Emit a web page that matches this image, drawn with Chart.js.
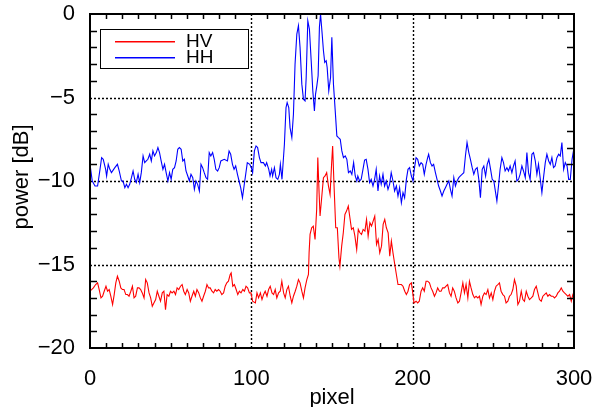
<!DOCTYPE html>
<html>
<head>
<meta charset="utf-8">
<script src="https://cdn.jsdelivr.net/npm/chart.js@4.4.1/dist/chart.umd.min.js"></script>
<style>
  html, body { margin: 0; padding: 0; background: #fff; }
  #wrap { width: 595px; height: 407px; }
</style>
</head>
<body>
<div id="wrap"><canvas id="chart" width="595" height="407"></canvas></div>
<script>
'use strict';

// Axis ticks
const xTicks = [0, 100, 200, 300];
const yTicks = [-20, -15, -10, -5, 0];

// Series names and colours
const seriesNames = ['HV', 'HH'];
const seriesColors = ['rgb(255, 0, 0)', 'rgb(0, 0, 255)'];

// HV (red): [pixel, power dB]
const hvSamples = [
  [0,-16.6],[2.1,-16.4],[3.5,-16.2],[4.7,-16.1],[5.7,-16.5],[6.8,-17.0],[7.8,-16.9],[8.8,-16.6],[9.9,-16.3],[10.9,-16.6],
  [11.9,-16.5],[12.9,-16.9],[14,-17.4],[15,-16.8],[16,-16.1],[17,-15.7],[18.1,-16.0],[19.1,-16.4],[20.1,-16.5],[21.1,-16.5],
  [22.2,-16.8],[23.2,-16.8],[24.2,-16.9],[25.3,-16.6],[26.3,-16.3],[27.3,-17.0],[28.3,-16.9],[29.4,-16.4],[30.4,-16.4],[31.4,-16.5],
  [32.4,-16.7],[33.5,-17.0],[34.5,-15.9],[35.5,-16.1],[36.6,-16.7],[37.6,-17.0],[38.6,-17.5],[39.6,-17.3],[40.7,-17.1],[41.7,-16.6],
  [42.7,-16.9],[43.7,-17.2],[44.8,-16.7],[45.8,-16.6],[46.8,-17.7],[47.8,-16.8],[48.9,-16.9],[49.9,-16.6],[50.9,-16.7],[52,-16.6],
  [53,-16.8],[54,-16.4],[55,-16.5],[56.1,-16.3],[57.1,-16.2],[58.1,-16.6],[59.1,-16.8],[60.2,-16.5],[61.2,-16.7],[62.2,-17.2],
  [63.2,-16.9],[64.3,-16.6],[65.3,-16.9],[66.3,-16.5],[67.4,-16.7],[68.4,-17.0],[69.4,-17.2],[70.4,-16.9],[71.5,-16.6],[72.5,-16.2],
  [73.5,-16.4],[74.5,-16.4],[75.6,-16.6],[76.6,-16.7],[77.6,-16.5],[78.6,-16.6],[79.7,-16.5],[80.7,-16.6],[81.7,-16.8],[82.8,-16.7],
  [83.8,-16.3],[84.8,-16.1],[85.8,-16.0],[86.9,-15.6],[87.5,-15.5],[88.5,-16.3],[89.5,-16.2],[90.6,-16.5],[91.6,-16.8],[92.6,-16.6],
  [93.6,-16.7],[94.7,-16.5],[95.7,-16.6],[96.7,-16.3],[97.7,-16.4],[98.8,-16.7],[99.8,-16.7],[100.8,-17.2],[102.5,-17.3],[103.5,-16.7],
  [104.5,-17.0],[105.6,-16.7],[106.6,-17.1],[107.6,-16.8],[108.6,-16.6],[109.7,-16.9],[110.7,-16.5],[111.7,-16.3],[112.8,-16.7],[113.8,-16.8],
  [114.8,-16.5],[115.8,-17.0],[116.9,-16.7],[117.9,-16.6],[118.9,-16.0],[120,-16.7],[121,-17.0],[122,-16.5],[123,-16.3],[124.1,-16.9],
  [125.1,-17.3],[126.1,-16.9],[127.2,-16.6],[128.2,-16.3],[129.2,-15.9],[130.2,-16.1],[131.3,-16.6],[132.3,-17.0],[133.3,-16.4],[134.4,-15.9],
  [135.4,-15.6],[135.8,-14.3],[136.4,-13.2],[137.4,-12.8],[138.4,-12.7],[139.5,-13.5],[140.5,-11.7],[141.2,-8.6],[142,-10.7],[142.6,-12.1],
  [143.6,-11.0],[144.7,-9.8],[145.7,-9.7],[146.7,-9.5],[147.8,-10.3],[148.8,-10.8],[149.8,-8.9],[150.4,-7.9],[151.2,-10.1],[152.3,-12.8],
  [153.3,-12.8],[154.3,-14.6],[154.9,-15.1],[156,-13.9],[157,-13.1],[158,-12.0],[159,-11.8],[160.1,-11.5],[161.1,-12.2],[162.1,-12.9],
  [163.2,-12.8],[164.2,-13.3],[165.3,-14.1],[166.3,-12.9],[167.3,-13.1],[168.3,-13.2],[169.3,-12.9],[170.4,-13.0],[171.4,-12.3],[172.4,-13.3],
  [173.5,-12.5],[174.5,-12.7],[175.5,-12.4],[176.5,-12.1],[177.6,-13.8],[178.6,-13.5],[179.6,-14.3],[180.7,-13.9],[181.7,-12.6],[182.7,-12.3],
  [183.7,-12.8],[184.8,-13.1],[185.8,-14.5],[186.8,-13.6],[187.8,-14.3],[188.9,-15.0],[189.9,-15.6],[190.9,-16.2],[192,-16.2],[193,-16.2],
  [194,-16.3],[195.1,-16.6],[196.1,-16.8],[197.1,-16.6],[198.1,-16.2],[199.2,-16.1],[200.2,-16.8],[200.8,-17.3],[202.1,-17.2],[203.1,-17.3],
  [204.1,-17.2],[205.2,-16.6],[206.2,-16.4],[207.2,-16.6],[208.3,-16.0],[209.3,-16.0],[210.4,-16.1],[211.4,-16.4],[212.4,-16.6],[213.5,-16.9],
  [214.5,-16.7],[215.5,-16.4],[216.6,-16.6],[217.6,-16.6],[218.6,-16.4],[219.7,-16.4],[220.7,-16.3],[221.7,-16.2],[222.8,-16.7],[223.8,-16.9],
  [224.8,-16.4],[225.8,-16.6],[226.9,-17.0],[228,-17.3],[229,-17.2],[230,-16.7],[231.1,-16.1],[232.1,-16.7],[233.1,-16.2],[234.2,-17.0],
  [235.2,-16.0],[236.2,-16.4],[237.3,-16.8],[238.3,-17.0],[239.3,-16.9],[240.4,-17.0],[241.4,-16.9],[242.4,-17.4],[243.5,-16.9],[244.5,-16.7],
  [245.5,-16.8],[246.6,-16.5],[247.6,-17.0],[248.7,-16.7],[249.7,-17.1],[250.7,-16.6],[251.7,-16.3],[252.8,-16.2],[253.8,-16.1],[254.8,-16.6],
  [255.9,-16.8],[256.9,-16.9],[257.9,-17.3],[259,-17.2],[260,-16.9],[261,-16.8],[262.1,-16.5],[263.1,-15.9],[264.2,-16.3],[265.2,-17.4],
  [266.2,-17.2],[267.3,-16.6],[268.3,-17.1],[269.3,-17.2],[270.4,-16.6],[271.4,-16.9],[272.4,-17.1],[273.5,-17.0],[274.5,-16.9],[275.5,-16.5],
  [276.6,-16.3],[277.6,-16.7],[278.6,-17.1],[279.7,-17.2],[280.7,-16.9],[281.7,-16.8],[282.8,-16.7],[283.8,-16.9],[284.8,-16.8],[285.9,-16.9],
  [286.9,-16.9],[287.9,-17.0],[289,-16.9],[290,-16.7],[291,-16.6],[292.1,-16.4],[293.1,-16.6],[294.1,-16.7],[295.2,-16.8],[296.2,-16.9],
  [297.3,-16.8],[298.3,-17.2],[299.3,-16.8],[300,-16.9]
];

// HH (blue): [pixel, power dB]
const hhSamples = [
  [0,-9.0],[1.4,-10.0],[3.1,-10.3],[4.7,-10.3],[6.2,-9.3],[7.2,-8.6],[8.2,-8.7],[9.7,-9.3],[10.3,-9.7],[11.3,-9.0],
  [12.3,-9.3],[13.3,-9.5],[15.4,-9.2],[17,-9.0],[18.1,-9.4],[19.5,-10.0],[20.5,-10.0],[21.6,-10.4],[22.6,-10.2],[23.6,-10.4],
  [24.6,-10.2],[25.7,-9.8],[26.7,-9.4],[27.7,-9.9],[28.7,-10.1],[29.8,-9.6],[30.8,-10.1],[31.8,-9.5],[32.9,-8.5],[33.9,-8.9],
  [34.9,-8.8],[35.9,-8.7],[37,-8.4],[38,-8.8],[39,-8.2],[40,-8.5],[41.1,-8.3],[42.1,-8.0],[43.1,-8.3],[44.1,-8.8],
  [45.2,-9.3],[46.2,-9.0],[47.2,-9.5],[48.3,-10.0],[49.3,-9.5],[50.3,-9.9],[51.3,-9.3],[52.4,-9.2],[53.4,-8.8],[54.4,-8.1],
  [55.4,-8.0],[56.5,-8.1],[57.5,-8.8],[58.5,-8.7],[59.5,-9.4],[60.6,-9.7],[61.6,-10.0],[62.6,-9.6],[63.7,-9.8],[64.7,-10.5],
  [65.7,-10.0],[66.7,-10.2],[67.8,-10.6],[68.8,-9.0],[69.8,-9.2],[70.8,-9.5],[71.9,-9.8],[72.9,-9.9],[73.9,-8.3],[74.9,-8.5],
  [76,-8.3],[77,-8.7],[78,-9.3],[79.1,-9.4],[80.1,-9.2],[81.1,-8.8],[83.2,-8.7],[85.2,-8.8],[86.2,-8.2],[87.2,-8.4],
  [88.3,-9.0],[89.3,-9.3],[90.3,-9.1],[91.4,-9.6],[92.4,-10.0],[93.4,-10.4],[94.5,-11.0],[95.5,-10.3],[96.5,-9.6],[97.5,-8.9],
  [99,-9.0],[100,-9.2],[100.8,-9.5],[101.9,-8.2],[102.9,-7.9],[103.9,-8.0],[105,-8.6],[106,-8.9],[107.5,-8.9],[108.7,-9.1],
  [109.5,-8.9],[110.8,-9.3],[111.6,-9.7],[112.6,-9.3],[113.2,-9.7],[114.3,-9.2],[115.3,-9.8],[116.4,-9.9],[117.4,-9.6],[118,-9.0],
  [119,-9.9],[120.5,-7.8],[121.5,-5.6],[122.2,-5.3],[123.2,-5.6],[124,-6.8],[125.1,-7.4],[126.1,-6.0],[127.1,-3.0],[128.2,-1.2],
  [129.2,-0.7],[130.2,-2.0],[131.3,-4.2],[132.3,-5.1],[133.3,-5.2],[134,-3.8],[135,-0.4],[136,-0.9],[137.1,-2.8],[138.1,-4.6],
  [139.1,-5.8],[139.8,-4.8],[140.6,-4.3],[141.4,-3.7],[142.2,-0.8],[142.9,0.0],[143.9,-1.2],[144.7,-2.2],[145.5,-2.9],[146.4,-2.8],
  [147,-3.2],[148,-4.6],[149.1,-3.8],[149.9,-1.4],[150.9,-4.2],[152,-5.8],[153,-7.3],[154,-7.4],[155.1,-7.5],[156.1,-8.2],
  [157.1,-8.6],[158.2,-8.5],[159.2,-8.7],[160.2,-9.5],[161.3,-9.4],[162.3,-9.6],[163.4,-8.9],[164.4,-9.7],[165.4,-10.0],[166,-9.7],
  [167.1,-10.0],[168.1,-9.9],[169.2,-9.3],[170.2,-8.75],[171.2,-8.7],[172.3,-9.3],[173.3,-10.1],[174.3,-9.9],[175.4,-10.3],[176.4,-9.9],
  [177.4,-9.3],[178.5,-10.6],[179.5,-9.7],[180.5,-10.2],[181.6,-9.6],[182.6,-10.3],[183.6,-10.0],[184.7,-10.5],[185.7,-10.2],[186.7,-9.5],
  [187.8,-10.0],[188.8,-10.6],[189.9,-10.3],[190.9,-10.9],[191.9,-10.4],[193,-11.3],[194,-10.7],[195,-11.0],[196.1,-9.9],[197.1,-9.3],
  [198.1,-9.2],[199.2,-9.7],[200.2,-10.0],[201,-9.3],[202.1,-8.6],[203.1,-8.7],[204.1,-9.1],[205.2,-8.9],[206.2,-9.0],[207.2,-9.6],
  [208.3,-9.0],[209.3,-8.6],[209.9,-8.4],[211,-8.9],[212,-9.1],[213,-9.0],[214.1,-9.5],[215.1,-9.9],[216.1,-10.3],[217.2,-10.6],
  [218.2,-10.9],[219.3,-10.6],[220.3,-10.4],[221.3,-10.2],[222.4,-10.0],[223.4,-10.5],[224.4,-10.9],[225.5,-9.8],[226.5,-10.3],[227.5,-10.0],
  [228.6,-9.8],[229.6,-9.7],[230.6,-9.6],[231.7,-9.5],[232.7,-8.5],[233.7,-7.7],[234.8,-8.3],[235.8,-8.7],[236.9,-9.2],[237.9,-9.6],
  [238.9,-9.3],[240,-9.2],[241,-9.9],[242,-11.0],[243.1,-9.3],[244.1,-9.1],[245.2,-9.7],[246.2,-9.0],[247.2,-8.7],[248.3,-9.3],
  [249.3,-9.9],[250.3,-10.0],[251.4,-10.7],[252.2,-11.2],[253.2,-10.3],[254.2,-9.3],[255.3,-8.6],[256.3,-8.9],[257.3,-9.4],[258.4,-9.2],
  [259.4,-9.4],[260.4,-9.1],[261.5,-9.5],[262.5,-9.1],[263.5,-8.8],[264.6,-10.0],[265.6,-9.9],[266.6,-9.6],[267.7,-9.1],[268.7,-9.4],
  [269.8,-9.8],[270.8,-8.3],[271.8,-9.5],[272.8,-9.9],[273.9,-8.4],[274.9,-8.3],[276,-8.8],[277,-9.6],[278,-9.0],[279,-9.8],
  [280.1,-10.7],[281.1,-9.8],[282.2,-8.9],[283.2,-8.4],[284.3,-8.8],[285.3,-9.0],[286.3,-8.6],[287.3,-9.2],[288.3,-9.1],[289.4,-8.6],
  [290.5,-8.4],[291.5,-8.5],[292.5,-7.7],[293.6,-9.3],[294.6,-8.9],[295.7,-9.1],[296.7,-9.9],[297.7,-9.9],[298.8,-8.7],[300,-8.0]
];

const FONT = '"Liberation Sans", Arial, Helvetica, sans-serif';

function toPoints(samples) {
    return samples.map(function(s) { return { x: s[0], y: s[1] }; });
}

// Dashed grid lines at the inner major ticks
const dashedGrid = {
    id: 'dashedGrid',
    beforeDatasetsDraw: function(chart) {
        var ctx = chart.ctx, a = chart.chartArea, x = chart.scales.x, y = chart.scales.y;
        ctx.save();
        ctx.strokeStyle = '#000';
        ctx.lineWidth = 1.4;
        ctx.setLineDash([2, 2]);
        ctx.beginPath();
        xTicks.slice(1, -1).forEach(function(v) {
            var px = Math.round(x.getPixelForValue(v)) + 0.5;
            ctx.moveTo(px, a.top); ctx.lineTo(px, a.bottom);
        });
        yTicks.slice(1, -1).forEach(function(v) {
            var py = Math.round(y.getPixelForValue(v)) + 0.5;
            ctx.moveTo(a.left, py); ctx.lineTo(a.right, py);
        });
        ctx.stroke();
        ctx.restore();
    }
};

// Box frame, inward minor ticks, legend box and axis titles
const frameAndLegend = {
    id: 'frameAndLegend',
    afterDraw: function(chart) {
        var ctx = chart.ctx, a = chart.chartArea, x = chart.scales.x, y = chart.scales.y;
        ctx.save();
        ctx.strokeStyle = '#000';
        ctx.setLineDash([]);

        // minor ticks on all four sides
        ctx.lineWidth = 1.5;
        ctx.beginPath();
        for (var v = 10; v < 300; v += 10) {
            if (v % 100 === 0) continue;
            var px = Math.round(x.getPixelForValue(v)) + 0.5;
            ctx.moveTo(px, a.bottom); ctx.lineTo(px, a.bottom - 5);
            ctx.moveTo(px, a.top); ctx.lineTo(px, a.top + 5);
        }
        for (var w = -19; w < 0; w++) {
            if (w % 5 === 0) continue;
            var py = Math.round(y.getPixelForValue(w)) + 0.5;
            ctx.moveTo(a.left, py); ctx.lineTo(a.left + 7, py);
            ctx.moveTo(a.right, py); ctx.lineTo(a.right - 7, py);
        }
        ctx.stroke();

        ctx.lineWidth = 2;
        ctx.strokeRect(a.left, a.top, a.right - a.left, a.bottom - a.top);

        // legend box
        var lx = Math.round(a.left + 10), ly = Math.round(a.top + 15);
        ctx.lineWidth = 1;
        ctx.strokeStyle = '#000';
        ctx.strokeRect(lx + 0.5, ly + 0.5, 148, 39);

        // legend samples (filled strips in the series colours)
        for (var i = 0; i < seriesNames.length; i++) {
            ctx.fillStyle = seriesColors[i];
            ctx.fillRect(lx + 15, ly + 12 + i * 16, 60, 1.5);
        }

        // legend labels
        ctx.font = '19px ' + FONT;
        ctx.textBaseline = 'middle';
        ctx.textAlign = 'left';
        ctx.fillStyle = '#000';
        for (var k = 0; k < seriesNames.length; k++) {
            ctx.fillText(seriesNames[k], lx + 86, ly + 13 + k * 16);
        }

        // axis titles
        ctx.font = '22px ' + FONT;
        ctx.textBaseline = 'alphabetic';
        ctx.textAlign = 'center';
        ctx.fillText('pixel', (a.left + a.right) / 2, 404);
        ctx.translate(28, (a.top + a.bottom) / 2 - 4);
        ctx.rotate(-Math.PI / 2);
        ctx.fillText('power [dB]', 0, 0);
        ctx.restore();
    }
};

function noScalePadding(s) {
    s.paddingTop = 0; s.paddingBottom = 0; s.paddingLeft = 0; s.paddingRight = 0;
}

new Chart(document.getElementById('chart'), {
    type: 'line',
    data: {
        datasets: [
            { label: seriesNames[0], data: toPoints(hvSamples), borderColor: seriesColors[0], borderWidth: 1.1, pointRadius: 0, tension: 0, fill: false },
            { label: seriesNames[1], data: toPoints(hhSamples), borderColor: seriesColors[1], borderWidth: 1.1, pointRadius: 0, tension: 0, fill: false }
        ]
    },
    options: {
        responsive: false,
        animation: false,
        layout: { padding: { left: 0, top: 14, right: 21, bottom: 0 } },
        plugins: { legend: { display: false }, tooltip: { enabled: false } },
        scales: {
            x: {
                type: 'linear', min: 0, max: 300,
                afterBuildTicks: function(s) { s.ticks = xTicks.map(function(v) { return { value: v }; }); },
                afterFit: function(s) { s.height = 59; noScalePadding(s); },
                grid: { display: false },
                border: { display: false },
                ticks: { color: '#000', padding: 10, maxRotation: 0, font: { family: FONT, size: 22 } }
            },
            y: {
                type: 'linear', min: -20, max: 0,
                afterBuildTicks: function(s) { s.ticks = yTicks.map(function(v) { return { value: v }; }); },
                afterFit: function(s) { s.width = 90; noScalePadding(s); },
                grid: { display: false },
                border: { display: false },
                ticks: {
                    color: '#000', padding: 7, font: { family: FONT, size: 22 },
                    callback: function(v) { return String(v).replace('-', '\u2212'); }
                }
            }
        }
    },
    plugins: [dashedGrid, frameAndLegend]
});
</script>
</body>
</html>
